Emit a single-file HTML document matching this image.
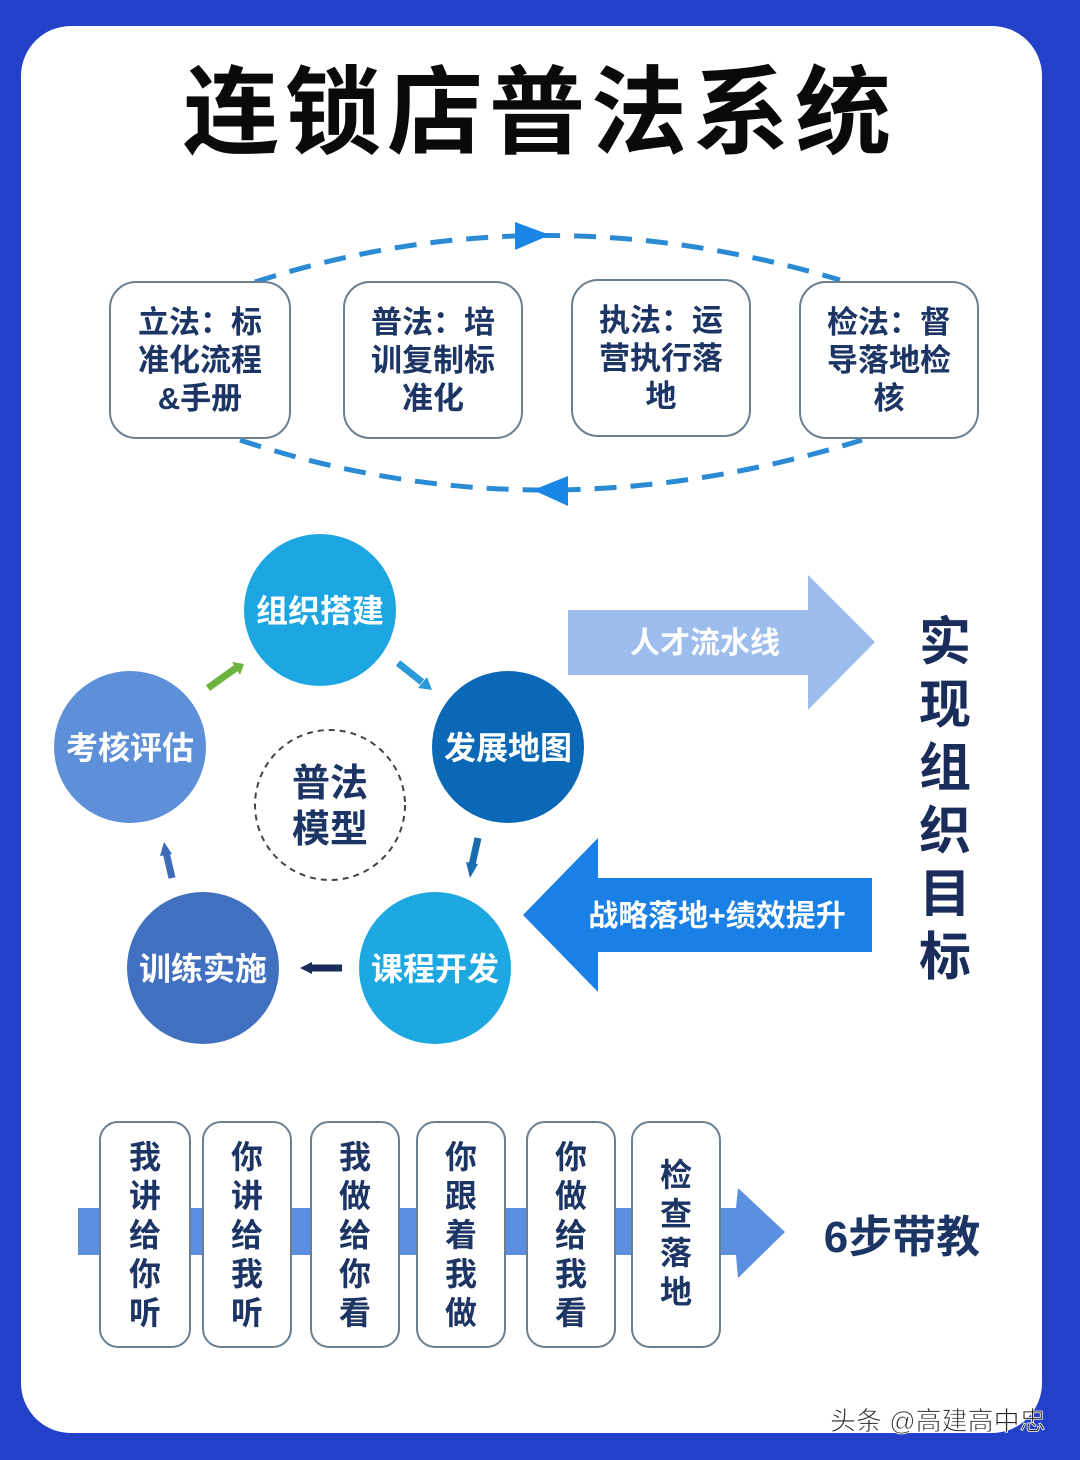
<!DOCTYPE html>
<html><head><meta charset="utf-8"><style>
html,body{margin:0;padding:0;background:#2340c8;}
svg{display:block;}
text{font-family:"Liberation Sans","Noto Sans CJK SC",sans-serif;font-weight:bold;}
</style></head><body>
<svg width="1080" height="1460" viewBox="0 0 1080 1460" xmlns="http://www.w3.org/2000/svg">
<rect x="0" y="0" width="1080" height="1460" fill="#2340c8"/>
<rect x="21" y="26" width="1021" height="1407" rx="50" fill="#ffffff"/>
<text x="540" y="146" font-size="96" text-anchor="middle" fill="#0a0a0a" letter-spacing="6">连锁店普法系统</text>
<defs>
<marker id="ah" markerWidth="10" markerHeight="10" refX="5" refY="5" orient="auto" markerUnits="userSpaceOnUse"></marker>
</defs>
<!-- dashed loop -->
<path d="M255 282 Q540 190 840 280" fill="none" stroke="#2a8ad4" stroke-width="5" stroke-dasharray="22 14"/>
<polygon points="515,222 550,235 515,250" fill="#1a86e6"/>
<path d="M240 440 Q540 540 862 440" fill="none" stroke="#2a8ad4" stroke-width="5" stroke-dasharray="22 14"/>
<polygon points="568,476 533,490 568,506" fill="#1a86e6"/>
<!-- top boxes -->
<g fill="#ffffff" stroke="#6a7f90" stroke-width="2">
<rect x="110" y="282" width="180" height="156" rx="26"/>
<rect x="344" y="282" width="178" height="156" rx="26"/>
<rect x="572" y="280" width="178" height="156" rx="26"/>
<rect x="800" y="282" width="178" height="156" rx="26"/>
</g>
<g font-size="31" fill="#1c3564" text-anchor="middle">
<text x="200" y="333">立法：标</text><text x="200" y="371">准化流程</text><text x="200" y="409">&amp;手册</text>
<text x="433" y="333">普法：培</text><text x="433" y="371">训复制标</text><text x="433" y="409">准化</text>
<text x="661" y="331">执法：运</text><text x="661" y="369">营执行落</text><text x="661" y="407">地</text>
<text x="889" y="333">检法：督</text><text x="889" y="371">导落地检</text><text x="889" y="409">核</text>
</g>
<!-- circles -->
<circle cx="320" cy="610" r="76" fill="#1ea6e2"/>
<circle cx="508" cy="747" r="76" fill="#0a68b6"/>
<circle cx="435" cy="968" r="76" fill="#1ea8e2"/>
<circle cx="203" cy="968" r="76" fill="#4170c0"/>
<circle cx="130" cy="747" r="76" fill="#5d90d8"/>
<circle cx="330" cy="805" r="75" fill="#ffffff" stroke="#444" stroke-width="2" stroke-dasharray="6 5"/>
<g font-size="32" fill="#ffffff" text-anchor="middle">
<text x="320" y="622">组织搭建</text>
<text x="508" y="759">发展地图</text>
<text x="435" y="980">课程开发</text>
<text x="203" y="980">训练实施</text>
<text x="130" y="759">考核评估</text>
</g>
<text x="330" y="796" font-size="38" fill="#1c3564" text-anchor="middle">普法</text>
<text x="330" y="842" font-size="38" fill="#1c3564" text-anchor="middle">模型</text>
<!-- small arrows -->
<line x1="208" y1="688" x2="236" y2="668" stroke="#6db33f" stroke-width="7"/>
<polygon points="232,662 244,664 240,675" fill="#6db33f"/>
<line x1="398" y1="663" x2="422" y2="682" stroke="#2a9ad8" stroke-width="7"/>
<polygon points="418,688 432,690 427,677" fill="#2a9ad8"/>
<line x1="478" y1="838" x2="472" y2="865" stroke="#1a6cb0" stroke-width="7"/>
<polygon points="466,862 470,878 478,864" fill="#1a6cb0"/>
<line x1="342" y1="968" x2="310" y2="968" stroke="#1a2d5a" stroke-width="7"/>
<polygon points="312,962 300,968 312,974" fill="#1a2d5a"/>
<line x1="172" y1="878" x2="166" y2="852" stroke="#3f6cb8" stroke-width="7"/>
<polygon points="160,856 164,842 172,854" fill="#3f6cb8"/>
<!-- big arrows -->
<polygon points="568,610 808,610 808,575 875,642 808,710 808,675 568,675" fill="#9dbdec"/>
<text x="705" y="653" font-size="30" fill="#ffffff" text-anchor="middle">人才流水线</text>
<polygon points="872,878 598,878 598,838 523,915 598,992 598,952 872,952" fill="#1a80e6"/>
<text x="717" y="926" font-size="30" fill="#ffffff" text-anchor="middle">战略落地+绩效提升</text>
<g font-size="52" fill="#1a2d5a" text-anchor="middle">
<text x="945" y="660">实</text><text x="945" y="723">现</text><text x="945" y="786">组</text>
<text x="945" y="849">织</text><text x="945" y="912">目</text><text x="945" y="975">标</text>
</g>
<!-- bottom -->
<rect x="78" y="1208" width="660" height="47" fill="#5b90e0"/>
<polygon points="736,1208 738,1188 785,1232 738,1278 736,1255" fill="#5b90e0"/>
<g fill="#ffffff" stroke="#6a7f90" stroke-width="2">
<rect x="100" y="1122" width="90" height="225" rx="18"/>
<rect x="203" y="1122" width="88" height="225" rx="18"/>
<rect x="311" y="1122" width="88" height="225" rx="18"/>
<rect x="417" y="1122" width="88" height="225" rx="18"/>
<rect x="527" y="1122" width="88" height="225" rx="18"/>
<rect x="632" y="1122" width="88" height="225" rx="18"/>
</g>
<g font-size="32" fill="#1c3564" text-anchor="middle">
<text x="145" y="1168">我</text><text x="145" y="1207">讲</text><text x="145" y="1246">给</text><text x="145" y="1285">你</text><text x="145" y="1324">听</text>
<text x="247" y="1168">你</text><text x="247" y="1207">讲</text><text x="247" y="1246">给</text><text x="247" y="1285">我</text><text x="247" y="1324">听</text>
<text x="355" y="1168">我</text><text x="355" y="1207">做</text><text x="355" y="1246">给</text><text x="355" y="1285">你</text><text x="355" y="1324">看</text>
<text x="461" y="1168">你</text><text x="461" y="1207">跟</text><text x="461" y="1246">着</text><text x="461" y="1285">我</text><text x="461" y="1324">做</text>
<text x="571" y="1168">你</text><text x="571" y="1207">做</text><text x="571" y="1246">给</text><text x="571" y="1285">我</text><text x="571" y="1324">看</text>
<text x="676" y="1186">检</text><text x="676" y="1225">查</text><text x="676" y="1264">落</text><text x="676" y="1303">地</text>
</g>
<text x="902" y="1252" font-size="44" fill="#1c3564" text-anchor="middle">6步带教</text>
<text x="830" y="1430" font-size="26" fill="#222" stroke="#fff" stroke-width="0.8" style="font-weight:normal">头条 @高建高中忠</text>
</svg>
</body></html>
